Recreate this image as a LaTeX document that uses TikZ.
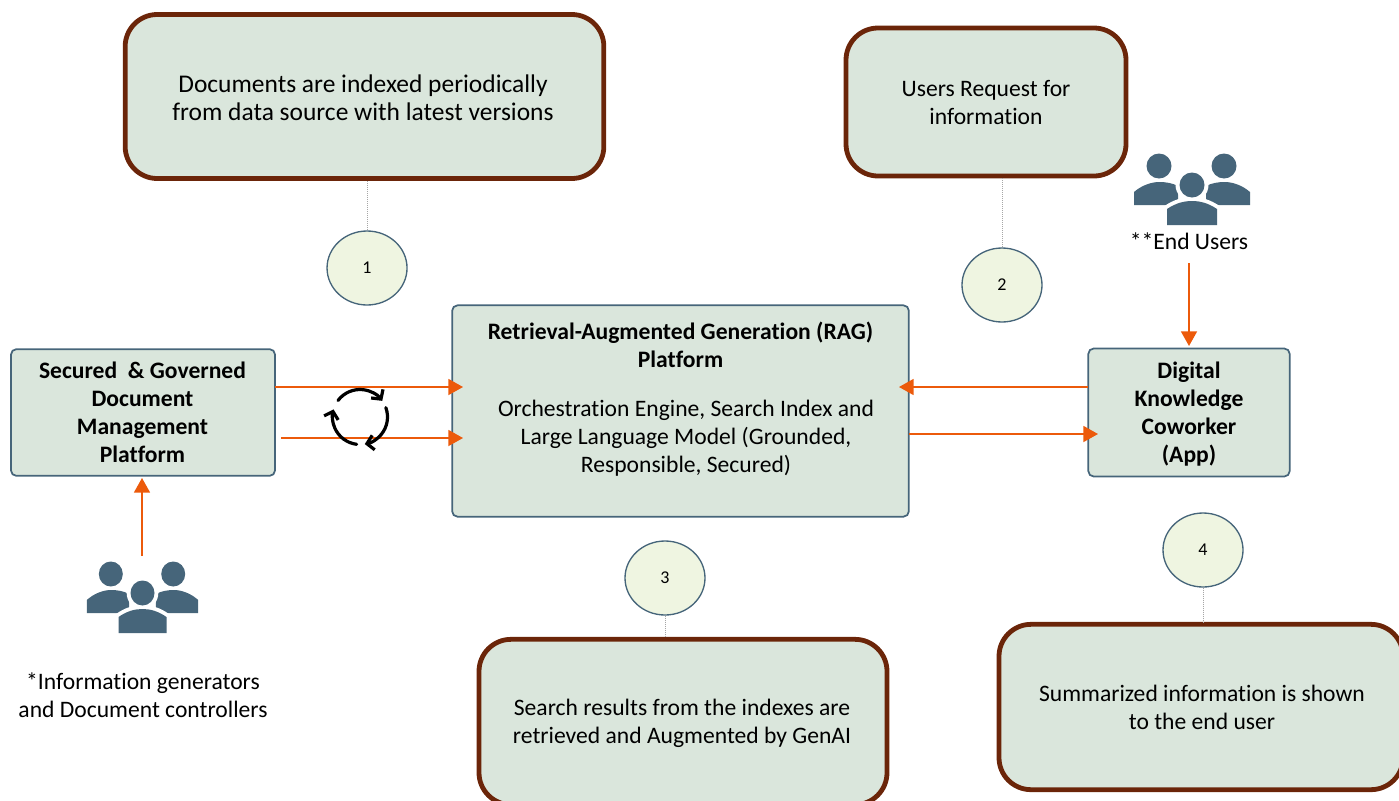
\documentclass[tikz,border=0pt]{standalone}
\usepackage{fontspec}
\setmainfont{Carlito}[Ligatures = NoCommon]
\usetikzlibrary{positioning, arrows.meta, shapes.geometric}

\definecolor{panelgreen}{HTML}{DAE6DC}
\definecolor{markergreen}{HTML}{EFF5E1}
\definecolor{slate}{HTML}{46657A}
\definecolor{rust}{HTML}{6B2509}
\definecolor{flow}{HTML}{EC5A0B}

\tikzset{
    callout/.style = {draw = rust, fill = panelgreen, line width = 3.6pt, rounded corners = 24pt,
        align = center, inner sep = 0pt, font = \fontsize{17.7}{21}\selectfont},
    platform/.style = {draw = slate, fill = panelgreen, line width = 1.3pt, rounded corners = 4pt,
        align = center, inner sep = 0pt, font = \fontsize{17.7}{21}\selectfont},
    marker/.style = {ellipse, draw = slate, fill = markergreen, line width = 1pt,
        minimum width = 60pt, minimum height = 55.5pt, inner sep = 0pt,
        font = \fontsize{13.5}{14}\selectfont},
    caption/.style = {align = center, font = \fontsize{17.7}{21}\selectfont},
    leader/.style = {draw = gray!70, line width = .5pt, densely dotted},
    flowline/.style = {draw = flow, line width = 1.3pt, -{Triangle[length = 11pt, width = 12pt]}},
    cycle/.style = {-{Straight Barb[length = 5pt, width = 11pt]}, line width = 2.4pt, line cap = round},
    people/.pic = {
        \fill [slate] (-33,-19) circle (12.5) (32,-19) circle (12.5);
        \fill [slate] (-58,20) -- (-58,7) .. controls (-50,0) and (-40,-3) .. (-33,-3)
            .. controls (-26,-3) and (-20,-2) .. (-14,1) -- (-14,20) -- cycle;
        \fill [slate] (58,20) -- (58,7) .. controls (50,0) and (40,-3) .. (33,-3)
            .. controls (26,-3) and (20,-2) .. (14,1) -- (14,20) -- cycle;
        \fill [white] (0,0) circle (16.5);
        \fill [white] (-29,42) -- (-29,22) .. controls (-18,14) and (-8,12) .. (0,12)
            .. controls (8,12) and (18,14) .. (29,22) -- (29,42) -- cycle;
        \fill [slate] (0,0) circle (12.5);
        \fill [slate] (-25,40) -- (-25,24) .. controls (-16,18) and (-8,16) .. (0,16)
            .. controls (8,16) and (16,18) .. (25,24) -- (25,40) -- cycle;
    }
}

\begin{document}
\begin{tikzpicture} [x = .75pt, y = -.75pt, on grid]

    \clip (0,0) rectangle (1399,800);

    % callouts
    \node (docs) [callout, minimum width = 359pt, minimum height = 123pt] at (364.5,96.5) {};
    \node (docstext) [align = center, font = \fontsize{19.1}{21}\selectfont] at (363,97.5)
        {Documents are indexed periodically\\from data source with latest versions};
    \node (request) [callout, minimum width = 210pt, minimum height = 111pt] at (986,102)
        {Users Request for\\information};
    \node (search) [callout, minimum width = 306pt, minimum height = 124pt] at (683,722) {};
    \node (searchtext) [caption] at (682,723)
        {Search results from the indexes are\\retrieved and Augmented by GenAI};
    \node (summary) [callout, minimum width = 303pt, minimum height = 124pt] at (1201,707) {};
    \node (summarytext) [caption] at (1202,707)
        {Summarized information is shown\\to the end user};

    % platforms
    \node (source) [platform, minimum width = 198pt, minimum height = 95pt] at (143,412.5) {};
    \node (sourcetext) [caption] at (142.5,412.5)
        {\textbf{Secured~ \& Governed}\\\textbf{Document}\\\textbf{Management}\\\textbf{Platform}};
    \node (rag) [platform, minimum width = 342.5pt, minimum height = 158.5pt] at (680.5,411) {};
    \node (ragtitle) [caption] at (680.5,345)
        {\textbf{Retrieval-Augmented Generation (RAG)}\\\textbf{Platform}};
    \node (ragbody) [caption] at (686,438)
        {Orchestration Engine, Search Index and\\Large Language Model (Grounded,\\Responsible, Secured)};
    \node (app) [platform, minimum width = 151pt, minimum height = 96pt] at (1189,412.5) {};
    \node (apptext) [caption] at (1189,414.5)
        {\textbf{Digital}\\\textbf{Knowledge}\\\textbf{Coworker}\\\textbf{(App)}};

    % numbered markers
    \node (m1) [marker, below = 171.5 * .75pt of docs, xshift = 1.9pt] {1};
    \node (m2) [marker, below = 183 * .75pt of request, xshift = 12pt] {2};
    \node (m3) [marker, above = 144 * .75pt of search, xshift = -13.5pt] {3};
    \node (m4) [marker, above = 157 * .75pt of summary, xshift = 1.5pt] {4};

    \path [leader] (docs.south -| m1) edge (m1.north);
    \path [leader] (request.south -| m2) edge (m2.north);
    \path [leader] (m3.south) edge (search.north -| m3);
    \path [leader] (m4.south) edge (summary.north -| m4);

    % people
    \pic at (1192,185) {people};
    \pic [xscale = .96] at (142.5,593) {people};
    \node (endusers) [caption] at (1189,241) {**End Users};
    \node (generators) [caption] at (143,695) {*Information generators\\and Document controllers};

    % flows
    \coordinate (s1) at (275,387);
    \coordinate (s2) at (281,438);
    \coordinate (r1) at (463,387);
    \coordinate (r2) at (463,438);
    \coordinate (r3) at (899,387);
    \coordinate (r4) at (909,434);
    \coordinate (k1) at (1088,387);
    \coordinate (k2) at (1098,434);
    \coordinate (u1) at (1189,263);
    \coordinate (u2) at (1189,346);
    \coordinate (g1) at (142,556);
    \coordinate (g2) at (142,478);

    \path
        (s1) edge [flowline] (r1)
        (s2) edge [flowline] (r2)
        (k1) edge [flowline] (r3)
        (r4) edge [flowline] (k2)
        (u1) edge [flowline] (u2)
        (g1) edge [flowline] (g2);

    % refresh cycle
    \coordinate (hub) at (360,417);
    \draw [cycle] ([shift = {(143:27.5 and -27.5)}] hub) arc [start angle = -143, end angle = -36, radius = 27.5];
    \draw [cycle] ([shift = {(20:27.5 and -27.5)}] hub) arc [start angle = -20, end angle = 80, radius = 27.5];
    \draw [cycle] ([shift = {(-97:27.5 and -27.5)}] hub) arc [start angle = 97, end angle = 196, radius = 27.5];

\end{tikzpicture}
\end{document}
